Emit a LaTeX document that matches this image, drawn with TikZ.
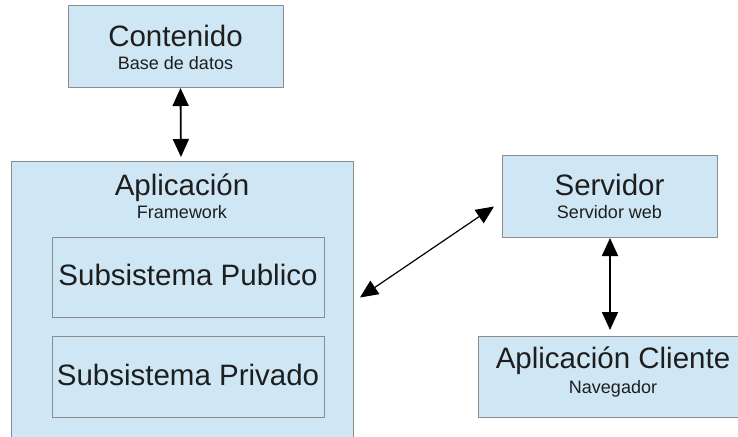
\documentclass[tikz,border=0pt]{standalone}
\usepackage{fontspec}
\setmainfont{Liberation Sans}
\usetikzlibrary{arrows.meta}
\definecolor{boxfill}{HTML}{CFE7F5}
\definecolor{boxline}{HTML}{8C8C8C}
\definecolor{ink}{HTML}{1E1E1E}
\tikzset{
  box/.style={draw=boxline, fill=boxfill, line width=1pt, inner sep=0pt, anchor=north west},
  title/.style={font=\fontsize{29.5}{30}\selectfont, text=ink, anchor=base, inner sep=0pt},
  sub/.style={font=\fontsize{18}{19}\selectfont, text=ink, anchor=base, inner sep=0pt},
  link/.style={draw=black, line width=1.8pt,
    {Triangle[length=18pt,width=16pt]}-{Triangle[length=18pt,width=16pt]}}
}
\begin{document}
\begin{tikzpicture}[x=1pt,y=-1pt]
\useasboundingbox (0,0) rectangle (738,436);
\clip (0,0) rectangle (738,436);
\fill[white] (0,0) rectangle (738,436);

% boxes
\node[box, minimum width=215pt, minimum height=82pt] (cont) at (68,5) {};
\node[box, minimum width=342pt, minimum height=300pt] (app) at (11,161) {};
\node[box, minimum width=272pt, minimum height=80pt] (pub) at (52,237) {};
\node[box, minimum width=272pt, minimum height=81pt] (priv) at (52,336) {};
\node[box, minimum width=215pt, minimum height=82pt] (serv) at (502,155) {};
\node[box, minimum width=270pt, minimum height=81pt] (cli) at (478,336) {};

% labels
\node[title] (contT) at (175.5,46) {Contenido};
\node[sub] (contS) at (175.5,69) {Base de datos};
\node[title] (appT) at (182,195) {Aplicación};
\node[sub] (appS) at (182,218) {Framework};
\node[title] (pubT) at (188,285) {Subsistema Publico};
\node[title] (privT) at (188,385) {Subsistema Privado};
\node[title] (servT) at (609.5,195) {Servidor};
\node[sub] (servS) at (609.5,218) {Servidor web};
\node[title] (cliT) at (613,368) {Aplicación Cliente};
\node[sub] (cliS) at (613,393) {Navegador};

% connectors
\draw[link, shorten >=4pt] ([xshift=4.5pt]cont.south) -- ([xshift=-1.5pt]app.north);
\draw[link, line width=1.2pt] ([xshift=6pt,yshift=14pt]app.east) -- ([xshift=-8pt,yshift=-10pt]serv.west);
\draw[link, shorten >=6pt] (serv.south) -- (serv.south |- cli.north);
\end{tikzpicture}
\end{document}
